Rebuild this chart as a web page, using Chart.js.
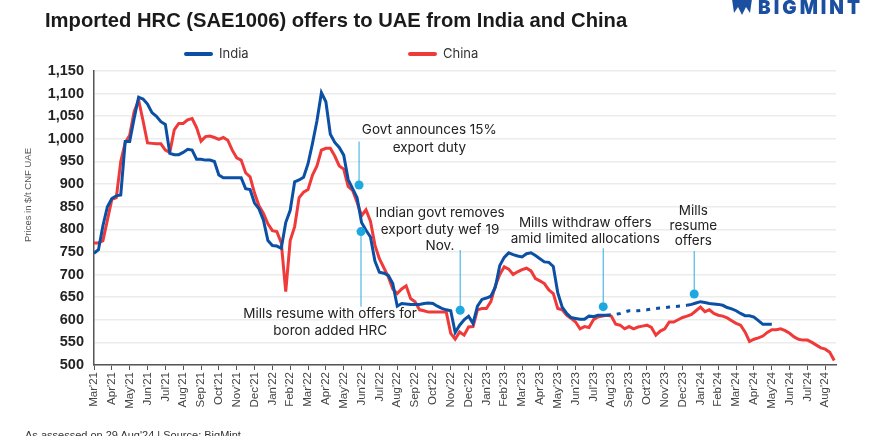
<!DOCTYPE html>
<html>
<head>
<meta charset="utf-8">
<script src="https://cdn.jsdelivr.net/npm/chart.js@4.4.1/dist/chart.umd.min.js"></script>
<style>
  body { margin: 0; background: #fff; }
  #wrap { position: relative; width: 877px; height: 436px; overflow: hidden; background: #fff; font-family: "Liberation Sans", Arial, sans-serif; }
  #title { position: absolute; left: 45px; top: 9px; font: bold 20.2px "Liberation Sans", Arial, sans-serif; color: #1a1a1a; white-space: nowrap; }
  #logo { position: absolute; right: 14px; top: -4px; font: 900 19px "Inter", sans-serif; color: #1b4fa0; letter-spacing: 3px; }
  #logo svg { vertical-align: -3px; margin-right: 4px; }
  .leg { position: absolute; top: 45px; font: 13px "Inter", sans-serif; color: #333; }
  .leg i { display: inline-block; width: 29px; height: 4px; border-radius: 2px; vertical-align: middle; margin-right: 6px; }
  #foot { position: absolute; left: 25px; top: 429px; font: 11px "Liberation Sans", Arial, sans-serif; color: #333; }
  canvas { position: absolute; left: 0; top: 0; }
</style>
</head>
<body>
<div id="wrap">
  <canvas id="c" width="877" height="436"></canvas>
  <div id="title">Imported HRC (SAE1006) offers to UAE from India and China</div>
  <div id="logo"><svg width="24" height="20" viewBox="0 0 24 20"><path d="M2 2 Q12 -2 22 2 L20 16 L16 10 L12 18 L8 10 L4 16 Z" fill="#1b4fa0"/></svg>BIGMINT</div>
  <div class="leg" style="left:184px"><i style="background:#0b50a5"></i>India</div>
  <div class="leg" style="left:408px"><i style="background:#f03a3a"></i>China</div>
  <div id="foot">As assessed on 29 Aug'24 | Source: BigMint</div>
</div>
<script>
// month tick labels, Mar'21 .. Aug'24
const months = ["Mar'21","Apr'21","May'21","Jun'21","Jul'21","Aug'21","Sep'21","Oct'21","Nov'21","Dec'21",
  "Jan'22","Feb'22","Mar'22","Apr'22","May'22","Jun'22","Jul'22","Aug'22","Sep'22","Oct'22","Nov'22","Dec'22",
  "Jan'23","Feb'23","Mar'23","Apr'23","May'23","Jun'23","Jul'23","Aug'23","Sep'23","Oct'23","Nov'23","Dec'23",
  "Jan'24","Feb'24","Mar'24","Apr'24","May'24","Jun'24","Jul'24","Aug'24"];

// weekly offers, $/t CNF UAE (one value per week from early Mar'21)
const india = [
  747,755,808,850,868,874,876,994,994,1045,
  1092,1088,1077,1058,1050,1038,1032,968,965,965,
  970,977,975,955,955,953,953,950,920,914,
  914,914,914,914,890,888,858,845,820,775,
  764,763,758,815,842,905,909,915,945,990,
  1040,1102,1082,1010,992,981,964,910,890,870,
  815,798,783,730,705,703,698,680,630,636,
  635,634,634,634,636,637,636,630,625,622,
  620,572,588,600,608,592,630,645,648,652,
  672,720,738,748,744,741,739,746,748,742,
  735,728,727,718,660,628,614,605,603,601,
  601,608,607,610,610,610,611,612,614,617,
  620,620,620,621,622,624,625,626,627,628,
  629,630,631,632,634,637,640,638,636,635,
  634,632,627,624,620,614,609,609,606,598,
  590,590,590];
const china = [
  770,770,775,820,866,870,950,992,1008,1060,
  1086,1040,991,990,989,989,975,970,1020,1034,
  1034,1042,1045,1025,995,1005,1006,1003,999,1003,
  997,975,958,953,925,916,880,852,835,812,
  797,795,770,662,775,806,870,882,888,920,
  940,975,979,979,962,940,933,895,886,860,
  830,843,818,765,735,715,695,668,658,668,
  675,647,640,622,620,617,617,617,617,617,
  570,557,573,566,584,585,622,625,625,640,
  675,700,717,712,700,706,711,714,708,691,
  686,680,666,658,625,622,610,603,595,580,
  585,583,600,606,608,610,608,590,588,580,
  585,580,584,586,588,583,566,575,580,595,
  595,600,605,608,612,620,628,618,622,614,
  610,608,604,598,592,588,573,552,557,560,
  564,572,578,578,580,576,570,562,557,555,
  555,550,544,538,535,528,510];

const yTicks = [500,550,600,650,700,750,800,850,900,950,1000,1050,1100,1150];
const weekStep = 0.25;          // months per weekly point
const indiaGap = [115, 133];    // weeks with no India offers (dotted)

// annotation notes (x in months from Mar'21, y in $/t)
const notes = [
  { text: ["Govt announces 15%", "export duty"], tx: 18.8, ty: [1019, 980], x: 14.86, top: 994, bottom: 905, dot: 898 },
  { text: ["Mills resume with offers for", "boron added HRC"], tx: 13.24, ty: [612, 575], x: 14.97, top: 787, bottom: 629, dot: 795 },
  { text: ["Indian govt removes", "export duty wef 19", "Nov."], tx: 19.4, ty: [836, 799, 763], x: 20.53, top: 754, bottom: 628, dot: 621 },
  { text: ["Mills withdraw offers", "amid limited allocations"], tx: 27.54, ty: [814, 778], x: 28.55, top: 758, bottom: 639, dot: 629 },
  { text: ["Mills", "resume", "offers"], tx: 33.6, ty: [840, 807, 774], x: 33.65, top: 752, bottom: 666, dot: 657 }
];

const toPoints = arr => arr.map((v, i) => ({ x: i * weekStep, y: v }));

const notesPlugin = {
  id: 'notes',
  afterDatasetsDraw(chart) {
    const { ctx, scales: { x, y } } = chart;
    ctx.save();
    notes.forEach(n => {
      const px = x.getPixelForValue(n.x);
      ctx.strokeStyle = '#2aaae2';
      ctx.lineWidth = 1;
      ctx.beginPath();
      ctx.moveTo(px, y.getPixelForValue(n.top));
      ctx.lineTo(px, y.getPixelForValue(n.bottom));
      ctx.stroke();
      ctx.fillStyle = '#1ea8e0';
      ctx.beginPath();
      ctx.arc(px, y.getPixelForValue(n.dot), 4.5, 0, Math.PI * 2);
      ctx.fill();
      ctx.fillStyle = '#222';
      ctx.font = '13.5px Inter, sans-serif';
      ctx.textAlign = 'center';
      ctx.textBaseline = 'middle';
      n.text.forEach((t, k) => ctx.fillText(t, x.getPixelForValue(n.tx), y.getPixelForValue(n.ty[k])));
    });
    // y axis title
    ctx.translate(28, 195);
    ctx.rotate(-Math.PI / 2);
    ctx.font = '9.5px "Liberation Sans", Arial, sans-serif';
    ctx.fillStyle = '#555';
    ctx.fillText('Prices in $/t CNF UAE', 0, 0);
    ctx.restore();
  }
};

new Chart(document.getElementById('c'), {
  type: 'line',
  data: {
    datasets: [
      {
        label: 'India',
        data: toPoints(india),
        borderColor: '#0b50a5',
        borderWidth: 3,
        pointRadius: 0,
        tension: 0,
        segment: {
          borderDash: c => (c.p0DataIndex >= indiaGap[0] && c.p1DataIndex <= indiaGap[1]) ? [4, 6] : undefined
        }
      },
      {
        label: 'China',
        data: toPoints(china),
        borderColor: '#f03a3a',
        borderWidth: 3,
        pointRadius: 0,
        tension: 0
      }
    ]
  },
  options: {
    responsive: false,
    animation: false,
    layout: { padding: { top: 71, right: 41, left: 0, bottom: 0 } },
    plugins: { legend: { display: false }, tooltip: { enabled: false } },
    scales: {
      x: {
        type: 'linear',
        min: 0,
        max: 41.6,
        afterFit: s => { s.height = 71; },
        grid: { drawOnChartArea: false, drawTicks: true, tickLength: 5, color: '#555' },
        border: { color: '#555', width: 1.5 },
        ticks: {
          stepSize: 1,
          includeBounds: false,
          autoSkip: false,
          maxRotation: 90,
          minRotation: 90,
          padding: 2,
          color: '#444',
          font: { family: '"Liberation Sans", Arial, sans-serif', size: 11.5 },
          callback: v => months[v] || ''
        }
      },
      y: {
        min: 500,
        max: 1150,
        afterFit: s => { s.width = 94; },
        afterBuildTicks: s => { s.ticks = yTicks.map(v => ({ value: v })); },
        grid: { color: '#ececec', lineWidth: 1.5, drawTicks: false },
        border: { color: '#555', width: 1.5 },
        ticks: {
          padding: 10,
          color: '#222',
          font: { family: '"Liberation Sans", Arial, sans-serif', size: 14.5, weight: 'bold' },
          callback: v => v.toLocaleString('en-US')
        }
      }
    }
  },
  plugins: [notesPlugin]
});
</script>
</body>
</html>
